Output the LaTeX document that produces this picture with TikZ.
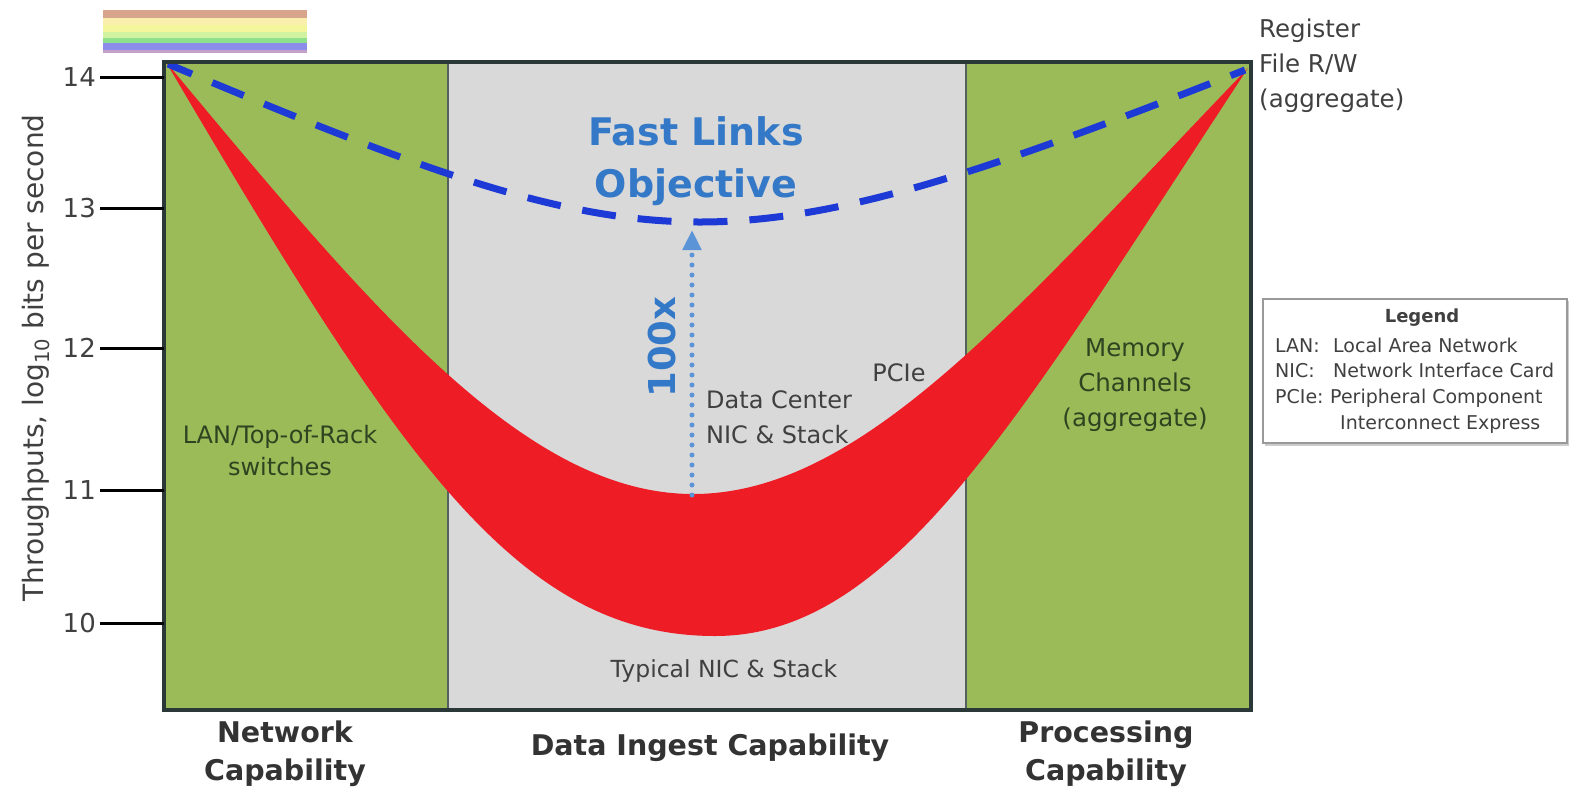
\documentclass[tikz,border=0pt]{standalone}
\usepackage{fontspec}
\setmainfont{DejaVu Sans}
\usetikzlibrary{arrows.meta}
\definecolor{grn}{HTML}{9BBB59}
\definecolor{gry}{HTML}{D9D9D9}
\definecolor{bandred}{HTML}{EE1C25}
\definecolor{dashblue}{HTML}{1E3AD6}
\definecolor{dotblue}{HTML}{5B95D8}
\definecolor{titleblue}{HTML}{3478C8}
\definecolor{framec}{HTML}{2B3838}
\definecolor{txtc}{HTML}{404040}
\definecolor{greentxt}{HTML}{2E4420}
\definecolor{rbA}{HTML}{D9A48C}
\definecolor{rbB}{HTML}{FBEFAE}
\definecolor{rbC}{HTML}{F3F59A}
\definecolor{rbD}{HTML}{CFF3A0}
\definecolor{rbE}{HTML}{8FE08A}
\definecolor{rbF}{HTML}{8C8CEB}
\definecolor{rbG}{HTML}{C2A0C8}
\tikzset{
  fs/.style={font=\fontsize{#1}{#1}\selectfont},
  lbl/.style={text=txtc, align=center, inner sep=0pt},
  glbl/.style={text=greentxt, align=center, inner sep=0pt},
  frame/.style={draw=framec, line width=4pt},
  divider/.style={draw=framec!80, line width=2pt},
  tickline/.style={draw=black, line width=3pt},
  ticklbl/.style={text=txtc, inner sep=0pt, anchor=east, font=\fontsize{26}{26}\selectfont},
  objline/.style={draw=dashblue, line width=7pt, dash pattern=on 34pt off 22pt, dash phase=8pt},
  gainarrow/.style={draw=dotblue, line width=5pt, line cap=round, dash pattern=on 0pt off 10pt, -{Triangle[length=20pt,width=18pt,fill=dotblue]}},
  legendbox/.style={draw=gray!80, line width=2pt, fill=white, inner sep=0pt},
  legtxt/.style={text=txtc, inner sep=0pt, anchor=base west, font=\fontsize{19}{19}\selectfont},
}
\begin{document}
\begin{tikzpicture}[x=1pt,y=-1pt]
\useasboundingbox (0,0) rectangle (1570,793);
\fill[white] (0,0) rectangle (1570,793);
% rainbow strip
\fill[rbA] (103,10) rectangle (307,18);
\fill[rbB] (103,18) rectangle (307,25);
\fill[rbC] (103,25) rectangle (307,32);
\fill[rbD] (103,32) rectangle (307,38);
\fill[rbE] (103,38) rectangle (307,43);
\fill[rbF] (103,43) rectangle (307,50);
\fill[rbG] (103,50) rectangle (307,53);
% panels
\fill[grn] (164,62) rectangle (448,710);
\fill[gry] (448,62) rectangle (966,710);
\fill[grn] (966,62) rectangle (1251,710);
\draw[divider] (448,62) -- (448,710);
\draw[divider] (966,62) -- (966,710);
% red band
\fill[bandred] (166,62) .. controls (396,453) and (515,636) .. (715,636)
  .. controls (895,636) and (1018,418) .. (1248,68)
  .. controls (1018,307) and (863,494) .. (693,494)
  .. controls (523,494) and (366,302) .. (166,62) -- cycle;
% objective curve
\draw[objline] (168,64) .. controls (420,170) and (560,222) .. (700,222)
  .. controls (840,222) and (990,170) .. (1245,70);
% frame
\draw[frame] (164,62) rectangle (1251,710);
% ticks
\foreach \yy/\ll in {77/14,208/13,348/12,490/11,623/10}{
  \draw[tickline] (100,\yy) -- (164,\yy);
  \node[ticklbl] (t\ll) at (96,\yy) {\ll};
}
% y-axis title
\node[lbl, rotate=90, fs=28] (ytitle) at (36,358) {Throughputs, log\textsubscript{10} bits per second};
% gain arrow
\coordinate (gainfrom) at (692,495);
\coordinate (gainto) at (692,230);
\draw[gainarrow] (gainfrom) -- (gainto);
\node[text=titleblue, rotate=90, inner sep=0pt, font=\bfseries\fontsize{37}{37}\selectfont] (gain) at (662,347) {100x};
% titles and labels
\node[text=titleblue, align=center, inner sep=0pt, font=\bfseries\fontsize{38}{52}\selectfont] (obj) at (696,161) {Fast Links\\Objective};
\node[lbl, anchor=west, align=left, font=\fontsize{24}{35}\selectfont] (dc) at (706,417) {Data Center\\NIC \& Stack};
\node[lbl, fs=24] (pcie) at (899,373) {PCIe};
\node[lbl, fs=23.5] (typ) at (724,671) {Typical NIC \& Stack};
\node[glbl, font=\fontsize{24}{32}\selectfont] (lan) at (280,451) {LAN/Top-of-Rack\\switches};
\node[glbl, font=\fontsize{24.5}{35}\selectfont] (mem) at (1135,385) {Memory\\Channels\\(aggregate)};
\node[lbl, anchor=west, align=left, font=\fontsize{24.5}{35}\selectfont] (reg) at (1259,66) {Register\\File R/W\\(aggregate)};
% bottom labels
\node[text=black!80, align=center, inner sep=0pt, font=\bfseries\fontsize{28.5}{38}\selectfont] (netcap) at (285,754) {Network\\Capability};
\node[text=black!80, align=center, inner sep=0pt, font=\bfseries\fontsize{28.5}{38}\selectfont] (ingest) at (710,748) {Data Ingest Capability};
\node[text=black!80, align=center, inner sep=0pt, font=\bfseries\fontsize{28.5}{38}\selectfont] (proccap) at (1106,754) {Processing\\Capability};
% legend
\fill[gray!40] (1265,301) rectangle (1569,446);
\node[legendbox, minimum width=304pt, minimum height=144pt, anchor=north west] (legend) at (1262,298) {};
\node[text=txtc, inner sep=0pt, font=\bfseries\fontsize{18}{18}\selectfont] (legtitle) at (1422,318) {Legend};
\node[legtxt] (l1a) at (1275,352) {LAN:};
\node[legtxt] (l1b) at (1333,352) {Local Area Network};
\node[legtxt] (l2a) at (1275,377) {NIC:};
\node[legtxt] (l2b) at (1333,377) {Network Interface Card};
\node[legtxt] (l3a) at (1275,403) {PCIe:};
\node[legtxt] (l3b) at (1330,403) {Peripheral Component};
\node[legtxt] (l4b) at (1340,429) {Interconnect Express};
\end{tikzpicture}
\end{document}
